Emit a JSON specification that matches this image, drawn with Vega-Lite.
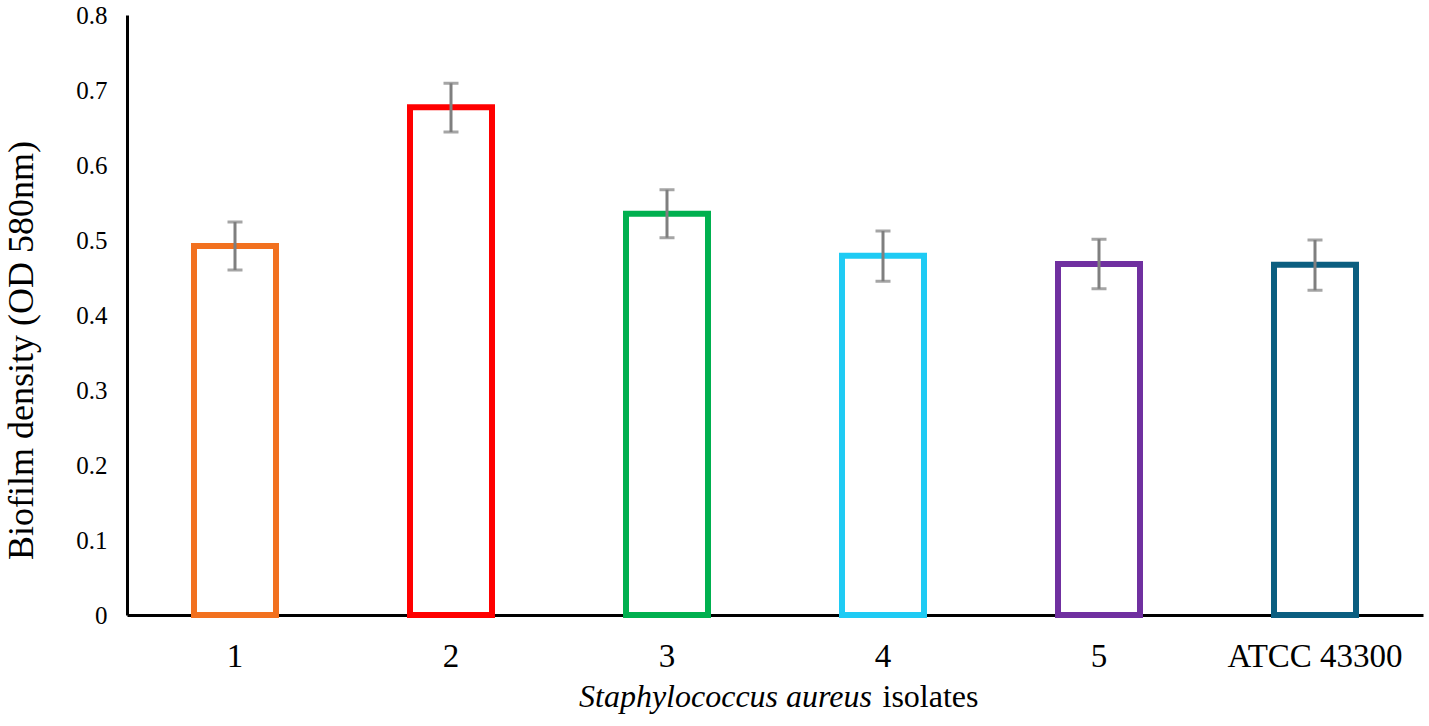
{
  "$schema": "https://vega.github.io/schema/vega-lite/v6.json",
  "autosize": "none",
  "width": 1296,
  "height": 600,
  "padding": {"left": 127, "top": 15, "right": 6, "bottom": 111},
  "background": "white",
  "config": {
    "font": "Liberation Serif",
    "view": {"stroke": null},
    "axis": {"grid": false, "ticks": false, "domainColor": "black", "domainWidth": 3, "labelColor": "black", "titleColor": "black", "titleFontWeight": "normal", "labelFont": "Liberation Serif", "titleFont": "Liberation Serif"}
  },
  "data": {
    "values": [
      {"isolate": "1", "mean": 0.492, "lo": 0.46, "hi": 0.524},
      {"isolate": "2", "mean": 0.677, "lo": 0.644, "hi": 0.709},
      {"isolate": "3", "mean": 0.535, "lo": 0.503, "hi": 0.567},
      {"isolate": "4", "mean": 0.479, "lo": 0.445, "hi": 0.512},
      {"isolate": "5", "mean": 0.468, "lo": 0.435, "hi": 0.501},
      {"isolate": "ATCC 43300", "mean": 0.467, "lo": 0.433, "hi": 0.5}
    ]
  },
  "resolve": {"axis": {"x": "independent"}},
  "layer": [
    {
      "mark": {"type": "bar", "fill": "white", "strokeWidth": 6, "width": 82},
      "encoding": {
        "x": {"field": "isolate", "type": "nominal", "sort": null, "scale": {"paddingInner": 0, "paddingOuter": 0},
          "axis": {"orient": "bottom", "labelAngle": 0, "labelFontSize": 33, "labelBaseline": "alphabetic", "labelPadding": 51,
            "title": "Staphylococcus aureus", "titleFont": "Liberation Serif", "titleFontStyle": "italic", "titleFontSize": 32, "titleX": 598, "titleY": 91, "titleBaseline": "alphabetic", "titleAlign": "center", "titleAnchor": null}},
        "y": {"field": "mean", "type": "quantitative", "scale": {"domain": [0, 0.8], "nice": false},
          "axis": {"title": "Biofilm density (OD 580nm)", "values": [0, 0.1, 0.2, 0.3, 0.4, 0.5, 0.6, 0.7, 0.8], "format": ".1~f", "labelFont": "Liberation Serif", "labelFontSize": 25, "labelPadding": 20, "labelBaseline": "middle",
            "titleFont": "Liberation Serif", "titleFontSize": 36, "titleX": -95, "titleY": 335, "titleBaseline": "alphabetic", "titleAlign": "center", "titleAngle": -90}},
        "stroke": {"field": "isolate", "type": "nominal", "sort": null, "legend": null,
          "scale": {"domain": ["1", "2", "3", "4", "5", "ATCC 43300"], "range": ["#F2711F", "#FF0000", "#00B04F", "#1FCBF4", "#7030A0", "#0B5E80"]}}
      }
    },
    {
      "mark": {"type": "rule", "stroke": "#7F7F7F", "strokeWidth": 3},
      "encoding": {
        "x": {"field": "isolate", "type": "nominal", "sort": null, "scale": {"paddingInner": 0, "paddingOuter": 0},
          "axis": {"orient": "bottom", "labels": false, "domain": false, "title": "isolates", "titleFont": "Liberation Serif", "titleFontSize": 32, "titleX": 803, "titleY": 91, "titleBaseline": "alphabetic", "titleAlign": "center", "titleAnchor": null}},
        "y": {"field": "lo", "type": "quantitative", "title": "Biofilm density (OD 580nm)"},
        "y2": {"field": "hi"}
      }
    },
    {
      "mark": {"type": "tick", "color": "#7F7F7F", "size": 15, "thickness": 3},
      "encoding": {
        "x": {"field": "isolate", "type": "nominal", "sort": null, "axis": null},
        "y": {"field": "lo", "type": "quantitative", "title": "Biofilm density (OD 580nm)"}
      }
    },
    {
      "mark": {"type": "tick", "color": "#7F7F7F", "size": 15, "thickness": 3},
      "encoding": {
        "x": {"field": "isolate", "type": "nominal", "sort": null, "axis": null},
        "y": {"field": "hi", "type": "quantitative", "title": "Biofilm density (OD 580nm)"}
      }
    }
  ]
}
